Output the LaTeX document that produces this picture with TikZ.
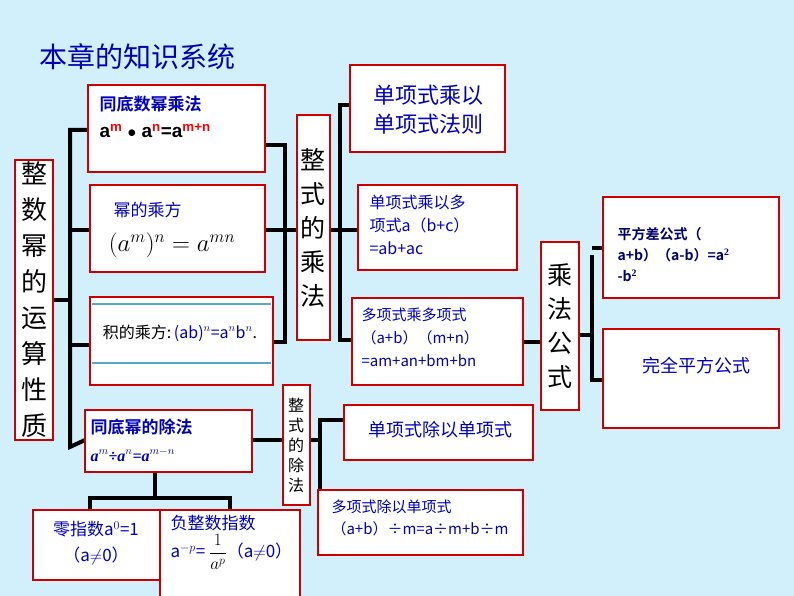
\documentclass[tikz,border=0pt]{standalone}
\usepackage{fontspec}
\setmainfont{Liberation Serif}
\newfontfamily\cjk{Noto Sans CJK SC}
\newfontfamily\cjkb{Noto Sans CJK SC Bold}
\newfontfamily\arl{Liberation Sans Bold}
\begin{document}
\begin{tikzpicture}[x=1pt,y=-1pt,
  bx/.style={draw=red!80!black,line width=2.2pt,fill=white},
  ln/.style={line width=4pt,black},
  bl/.style={text=blue!75!black},
  db/.style={text=blue!45!black}]
\fill[cyan!18!white] (0,0) rectangle (794,596);
\useasboundingbox (0,0) rectangle (794,596);
\node[anchor=west,text=blue!70!black,font=\cjk\fontsize{28}{30}\selectfont] (title) at (36,57) {本章的知识系统};
% connectors
\draw[ln] (53,300) -- (70,300);
\draw[ln] (88,130) -- (70,130) -- (70,447) -- (85,440);
\draw[ln] (70,230) -- (90,230);
\draw[ln] (70,345) -- (90,345);
\draw[ln] (265,145) -- (285,145) -- (285,342) -- (273,342);
\draw[ln] (265,230) -- (297,230);
\draw[ln] (330,230) -- (340,230);
\draw[ln] (350,105) -- (340,105) -- (340,340) -- (352,340);
\draw[ln] (340,230) -- (358,230);
\draw[ln] (523,342) -- (541,342);
\draw[ln] (579,335) -- (592,335);
\draw[ln] (592,255) -- (592,380) -- (603,380);
\draw[ln] (592,248) -- (603,248);
\draw[ln] (252,440) -- (283,440);
\draw[ln] (310,440) -- (320,440);
\draw[ln] (344,420) -- (320,420) -- (320,530) -- (318,530);
\draw[ln] (155,472) -- (155,498);
\draw[ln] (90,510) -- (90,498) -- (230,498) -- (230,510);
% boxes
\draw[bx] (15,160) rectangle (53,440);
\node[font=\cjk\fontsize{26}{36}\selectfont,align=center] (A) at (34,300) {整\\数\\幂\\的\\运\\算\\性\\质};
\draw[bx] (88,85) rectangle (265,172);
\node[anchor=north west,bl,font=\cjkb\fontsize{17}{20}\selectfont] (B1) at (96,92) {同底数幂乘法};
\node[anchor=north west,font=\arl\fontsize{19}{21}\selectfont] (B1f) at (96,120) {a\textsuperscript{\color{red}m} $\bullet$ a\textsuperscript{\color{red}n}=a\textsuperscript{\color{red}m+n}};
\draw[bx] (90,185) rectangle (265,272);
\node[anchor=north west,bl,font=\cjk\fontsize{17}{20}\selectfont] (B2) at (110,199) {幂的乘方};
\node[font=\fontsize{26}{28}\selectfont] (B2f) at (172,245) {$(a^{m})^{n}=a^{mn}$};
\draw[bx] (90,297) rectangle (273,385);
\draw[cyan!60!gray,line width=2.5pt] (92,304) -- (271,304) (92,363) -- (271,363);
\node[font=\cjk\fontsize{16}{20}\selectfont] (B3) at (180,333) {积的乘方:\,{\color{blue!70!black}\itshape (ab)$^n$=a$^n$b$^n$}.};
\draw[bx] (85,410) rectangle (252,472);
\node[anchor=north west,bl,font=\cjkb\fontsize{17}{20}\selectfont] (B4) at (87,415) {同底幂的除法};
\node[anchor=north west,bl,font=\bfseries\itshape\fontsize{16}{18}\selectfont] (B4f) at (87,445) {a$^{m}$÷a$^{n}$=a$^{m-n}$};
\draw[bx] (297,115) rectangle (330,340);
\node[font=\cjk\fontsize{25}{34}\selectfont,align=center] (C) at (313,228) {整\\式\\的\\乘\\法};
\draw[bx] (350,65) rectangle (505,152);
\node[bl,font=\cjk\fontsize{22}{29}\selectfont,align=left] (D1) at (428,110) {单项式乘以\\单项式法则};
\draw[bx] (358,185) rectangle (517,270);
\node[anchor=north west,bl,font=\cjk\fontsize{16}{23}\selectfont,align=left] (D2) at (366,191) {单项式乘以多\\项式a（b+c）\\=ab+ac};
\draw[bx] (352,298) rectangle (523,385);
\node[anchor=north west,bl,font=\cjk\fontsize{15}{23}\selectfont,align=left] (D3) at (358,304) {多项式乘多项式\\（a+b）（m+n）\\=am+an+bm+bn};
\draw[bx] (541,242) rectangle (579,410);
\node[font=\cjk\fontsize{25}{34}\selectfont,align=center] (E) at (560,326) {乘\\法\\公\\式};
\draw[bx] (603,197) rectangle (779,298);
\node[anchor=north west,db,font=\cjkb\fontsize{14}{21}\selectfont,align=left] (F1) at (614,224) {平方差公式（\\a+b）（a-b）=a$^{\mathbf 2}$\\-b$^{\mathbf 2}$};
\draw[bx] (603,329) rectangle (779,428);
\node[bl,font=\cjk\fontsize{18}{20}\selectfont] (F2) at (696,366) {完全平方公式};
\draw[bx] (283,385) rectangle (310,505);
\node[font=\cjk\fontsize{16}{20}\selectfont,align=center] (G) at (296,445) {整\\式\\的\\除\\法};
\draw[bx] (344,405) rectangle (533,460);
\node[bl,font=\cjk\fontsize{18}{20}\selectfont] (H1) at (440,430) {单项式除以单项式};
\draw[bx] (318,490) rectangle (523,555);
\node[anchor=north west,bl,font=\cjk\fontsize{15}{22}\selectfont,align=left] (H2) at (328,496) {多项式除以单项式\\（a+b）÷m=a÷m+b÷m};
\draw[bx] (33,510) rectangle (160,580);
\node[bl,font=\cjk\fontsize{17}{26}\selectfont,align=center] (I1) at (96,543) {零指数a$^0$=1\\（a$\neq$0）};
\draw[bx] (160,510) rectangle (300,600);
\node[anchor=north west,bl,font=\cjk\fontsize{17}{20}\selectfont] (I2) at (167,512) {负整数指数};
\node[anchor=west,bl,font=\cjk\fontsize{17}{20}\selectfont] (I2f) at (167,552) {a$^{-p}$= {\color{black}$\displaystyle\frac{1}{a^p}$}（a$\neq$0）};
\end{tikzpicture}
\end{document}
